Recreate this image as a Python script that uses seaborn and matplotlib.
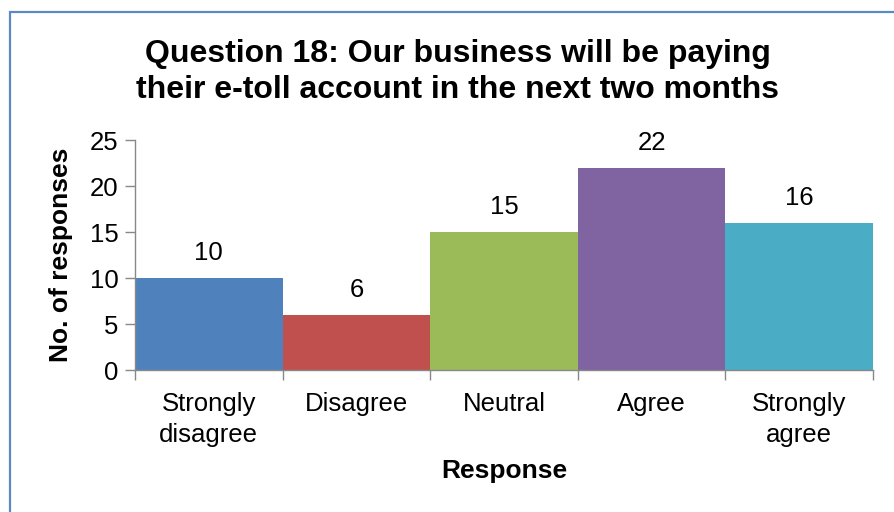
import matplotlib
matplotlib.use("Agg")
import matplotlib.pyplot as plt
import seaborn as sns
import pandas as pd
from matplotlib.patches import Rectangle

categories = ["Strongly\ndisagree", "Disagree", "Neutral", "Agree", "Strongly\nagree"]
responses = [10, 6, 15, 22, 16]
colors = ["#4F81BD", "#C0504D", "#9BBB59", "#8064A2", "#4BACC6"]
yticks = [0, 5, 10, 15, 20, 25]

sns.set_style("white")
plt.rcParams["font.family"] = ["Liberation Sans", "DejaVu Sans"]
plt.rcParams["text.color"] = "black"
plt.rcParams["axes.labelcolor"] = "black"
plt.rcParams["xtick.color"] = "black"
plt.rcParams["ytick.color"] = "black"

df = pd.DataFrame({"Response": categories, "Count": responses})

fig = plt.figure(figsize=(8.94, 5.12), dpi=100)
ax = fig.add_axes([135 / 894, 1 - 370 / 512, (873 - 135) / 894, (370 - 140) / 512])

sns.barplot(data=df, x="Response", y="Count", hue="Response", palette=colors,
            width=1.0, legend=False, ax=ax, saturation=1, linewidth=0)

ax.set_xlim(-0.5, len(categories) - 0.5)
ax.set_ylim(0, 25)
ax.set_yticks(yticks)
ax.tick_params(axis="y", labelsize=18.5, length=7, width=1, color="#888888",
               labelcolor="black", pad=5, left=True)
ax.tick_params(axis="x", which="major", length=0, labelsize=18.5, labelcolor="black", pad=16)
ax.set_xticks([i - 0.5 for i in range(len(categories) + 1)], minor=True)
ax.tick_params(axis="x", which="minor", length=7, width=1, color="#888888", bottom=True)
for lbl in ax.get_xticklabels():
    lbl.set_linespacing(1.35)

for s in ["top", "right"]:
    ax.spines[s].set_visible(False)
for s in ["left", "bottom"]:
    ax.spines[s].set_color("#888888")
    ax.spines[s].set_linewidth(1)

for i, v in enumerate(responses):
    ax.annotate(str(v), (i, v), xytext=(0, 9), textcoords="offset points",
                ha="center", va="bottom", fontsize=18.5, color="black")

ax.set_xlabel("Response", fontsize=19, fontweight="bold", labelpad=9)
ax.set_ylabel("No. of responses", fontsize=19, fontweight="bold", labelpad=12)

fig.text(458 / 894, 1 - 72 / 512, "Question 18: Our business will be paying\ntheir e-toll account in the next two months",
         ha="center", va="center", fontsize=23, fontweight="bold", linespacing=1.3,
         color="black")

fig.patches.append(Rectangle((10 / 894, -0.05), 1.0, 1 - 12 / 512 + 0.05,
                             transform=fig.transFigure, fill=False,
                             edgecolor="#5A8AC6", linewidth=1.6))

fig.savefig("out.png", dpi=100, facecolor="white")
